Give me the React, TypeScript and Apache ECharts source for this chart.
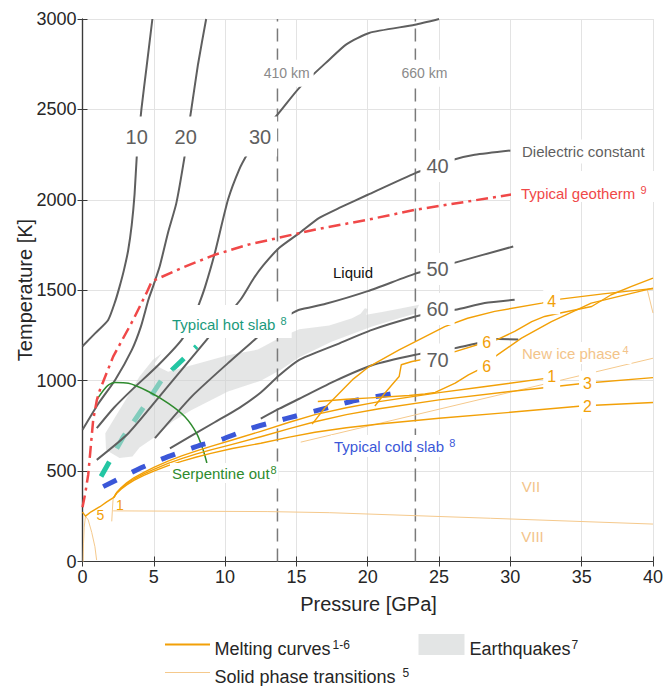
import React, { useEffect, useRef } from 'react';
import * as echarts from 'echarts';

type Pt = [number, number];

// ---------- axes ----------
const pressureRange = { min: 0, max: 40, interval: 5 };
const temperatureRange = { min: 0, max: 3000, interval: 500 };

// ---------- dielectric constant contours ----------
const dielectricLevels = ['10', '20', '30', '40', '50', '60', '70'];
const eps10: Pt[] = [[0, 1190], [0.9, 1263], [1.8, 1336], [2.3, 1440], [2.6, 1520], [2.9, 1610], [3.2, 1720], [3.45, 1860], [3.65, 2030], [3.82, 2260], [3.95, 2360], [4.13, 2500], [4.5, 2740], [4.9, 3000]];
const eps20: Pt[] = [[0, 728], [1.13, 875], [2.29, 1004], [3.46, 1170], [4.1, 1300], [4.62, 1447], [4.9, 1510], [5.41, 1631], [6.0, 1820], [6.58, 1982], [7.2, 2260], [7.35, 2355], [7.63, 2500], [8.1, 2750], [8.67, 3000]];
const eps30: Pt[] = [[1.0, 737], [2.2, 850], [3.46, 949], [5.32, 1087], [6.95, 1226], [7.7, 1330], [8.2, 1430], [8.6, 1520], [9.28, 1706], [10.2, 2000], [11.0, 2170], [11.6, 2259], [12.4, 2360], [13.67, 2471], [15.2, 2619], [17.3, 2775], [18.5, 2860], [20.1, 2923], [23.3, 2968], [25, 3000]];
const eps40: Pt[] = [[1.0, 562], [3.22, 709], [5.78, 949], [8.7, 1226], [10.0, 1345], [11.1, 1450], [12.0, 1565], [12.7, 1640], [13.8, 1735], [15.2, 1816], [16.6, 1900], [18, 1955], [20, 2028], [23.34, 2148], [24.7, 2185], [26, 2222], [27.5, 2249], [30, 2273]];
const eps50: Pt[] = [[5.08, 682], [7.65, 912], [10.2, 1097], [12.07, 1226], [13.3, 1310], [14.49, 1364], [15.2, 1392], [17.05, 1425], [20, 1495], [23.34, 1592], [24.8, 1622], [26, 1650], [30.2, 1742]];
const eps60: Pt[] = [[6.13, 626], [9.27, 770], [11, 850], [12.5, 935], [13.8, 1030], [15.2, 1115], [17.75, 1198], [20.3, 1281], [23.34, 1355], [24.7, 1378], [26.13, 1392], [28.2, 1429], [30.3, 1447]];
const eps70: Pt[] = [[12.5, 790], [13.8, 845], [15.2, 900], [17.75, 1000], [20.3, 1085], [23.34, 1143], [24.8, 1162], [26.13, 1180], [27.76, 1208], [29.15, 1230], [30.55, 1228]];

// ---------- profiles ----------
const geotherm: Pt[] = [[0, 300], [0.2, 380], [0.4, 480], [0.75, 783], [1.01, 894], [1.22, 949], [2.15, 1133], [3.55, 1336], [4.48, 1484], [4.85, 1549], [6.95, 1623], [9.27, 1696], [11.6, 1752], [13.7, 1789], [16.26, 1835], [20, 1890], [23.34, 1945], [29.97, 2028], [35, 2088], [40, 2145]];
const hotSlab: Pt[] = [[1.3, 470], [2.87, 691], [4.15, 838], [5.55, 1004], [8, 1190]];
const coldSlab: Pt[] = [[1.45, 414], [3.9, 510], [6.0, 580], [8.34, 645], [9.5, 668], [11.84, 737], [14.26, 790], [17.5, 857], [19.1, 890], [21.7, 928]];
const serpentineOut: Pt[] = [[0.99, 894], [1.5, 950], [1.83, 977], [2.29, 990], [3.22, 986], [4.62, 940], [6.02, 875], [7.18, 801], [8.0, 709], [8.46, 617], [8.72, 545]];

// ---------- earthquakes outline ----------
const quakeOutline: Pt[] = [
  [5.55, 1150], [5.0, 1090], [6.0, 1050], [8.1, 1095], [10.2, 1140], [12.3, 1172], [13.9, 1240], [15.2, 1284], [17.3, 1305],
  [18.9, 1345], [19.5, 1370], [19.8, 1400], [20.0, 1396], [19.9, 1365], [21.0, 1380], [22.2, 1398], [23.6, 1420], [23.3, 1370],
  [22.2, 1345], [20.3, 1300], [17.5, 1216], [15.2, 1130], [13.9, 1060], [12.5, 1000], [10.2, 940], [7.65, 838], [6.34, 775],
  [5.1, 690], [4.0, 630], [3.5, 580], [2.6, 572], [1.65, 617], [1.6, 709], [3.0, 890], [4.0, 1023], [4.94, 1115],
];

// ---------- melting curves ----------
const melt1: Pt[] = [[0, 273], [0.21, 251], [0.6, 275], [1.22, 303], [1.7, 330], [2.2, 355], [2.4, 382], [2.7, 408], [3.1, 435], [3.6, 463], [4.3, 493], [5, 520], [6, 555], [7, 585], [8, 612], [9, 637], [10.5, 672], [12.5, 720], [14.5, 770], [16.3, 812], [18.5, 850], [20.8, 884], [25, 934], [28, 965], [32.6, 1014]];
const melt2: Pt[] = [[2.2, 355], [2.4, 378], [2.7, 400], [3.1, 424], [3.6, 449], [4.3, 476], [5, 500], [6, 530], [7, 555], [8, 578], [9, 598], [10.5, 625], [12.5, 654], [14.5, 688], [16.3, 715], [18.5, 740], [20.8, 760], [25, 792], [30, 825], [35.2, 861], [40, 879]];
const melt3: Pt[] = [[2.2, 355], [2.4, 380], [2.7, 404], [3.1, 430], [3.6, 456], [4.3, 485], [5, 510], [6, 543], [7, 570], [8, 595], [9, 617], [10.5, 648], [12.5, 690], [14.5, 735], [16.3, 773], [18.5, 812], [20.8, 845], [25, 894], [30, 940], [35.2, 986], [40, 1017]];
const melt4: Pt[] = [[16.1, 760], [17, 850], [18, 931], [19, 1010], [20.1, 1078], [22.2, 1170], [23.34, 1216], [25.4, 1299], [27, 1345], [28.9, 1383], [32.2, 1429], [33.5, 1451], [36.5, 1480], [39.6, 1506], [40, 1508]];
const melt6a: Pt[] = [[20.5, 860], [20.9, 900], [21.24, 935], [21.7, 977], [22.2, 1023], [22.35, 1088], [23.1, 1106], [24.3, 1125], [26.13, 1161], [28.2, 1211], [29.15, 1230], [30.3, 1272], [31.5, 1327], [32.4, 1355], [33.5, 1374], [35.7, 1410], [37.07, 1475], [38.5, 1521], [40, 1567]];
const melt6b: Pt[] = [[16.5, 885], [18.5, 897], [20.2, 905], [22.9, 918], [24.0, 926], [24.73, 935], [26.13, 986], [27.06, 1032], [27.76, 1060], [28.24, 1082], [28.92, 1133], [30.78, 1235], [32.88, 1327], [35.67, 1429], [40, 1512]];

// ---------- solid phase transitions ----------
const newIcePhase: Pt[] = [[15.3, 660], [40, 1124]];
const iceVIIVIII: Pt[] = [[2.15, 280], [13, 276], [17.3, 270], [28.6, 239], [40, 207]];
const transA: Pt[] = [[0.21, 251], [0.4, 230], [0.65, 160], [0.87, 82], [0.99, 8]];
const transB: Pt[] = [[0.21, 251], [0.12, 190], [0.07, 100], [0.05, 0]];
const transC: Pt[] = [[2.15, 352], [2.1, 290], [2.05, 222]];
const transD: Pt[] = [[39.6, 1503], [40, 1374]];

// ---------- mantle depths ----------
const depthMarkers: { name: string; pressure: number }[] = [
  { name: '410 km', pressure: 13.67 },
  { name: '660 km', pressure: 23.34 },
];

const FONT = '"Liberation Sans", Arial, Helvetica, sans-serif';
const GRAY = '#5f5f5f';
const ORANGE = '#f2a007';
const LIGHT = '#f5c98c';
const RED = '#f04848';
const TEAL = '#23c6a3';
const BLUE = '#3b57d8';
const GREEN = '#2e8b2e';

function lineSeries(data: Pt[], color: string, width: number, opts: any = {}) {
  return {
    type: 'line',
    data,
    symbol: 'none',
    showSymbol: false,
    silent: true,
    clip: true,
    smooth: opts.smooth ?? false,
    z: opts.z ?? 4,
    lineStyle: { color, width, type: opts.dash ?? 'solid', cap: 'butt', join: 'round' },
    emphasis: { disabled: true },
  };
}

function text(content: string, x: number, y: number, o: any = {}) {
  const style: any = {
    text: content,
    fill: o.color ?? '#262626',
    fontSize: o.size ?? 15,
    fontFamily: FONT,
    align: o.align ?? 'center',
    verticalAlign: o.va ?? 'middle',
    lineHeight: o.lh ?? (o.size ?? 15) + 3,
  };
  if (o.bg) { style.backgroundColor = o.bg; style.padding = o.pad ?? [2, 3]; }
  if (o.rich) style.rich = o.rich;
  return { type: 'text', x, y, z: 100, silent: true, rotation: o.rotation ?? 0, style };
}

function supText(main: string, sup: string, x: number, y: number, o: any = {}) {
  const size = o.size ?? 15;
  const supSize = o.supSize ?? 11;
  return text(`{m|${main}}{s|${sup}}`, x, y, {
    ...o,
    align: o.align ?? 'left',
    rich: {
      m: { fontSize: size, fontFamily: FONT, lineHeight: size + 3 },
      s: { fontSize: supSize, fontFamily: FONT, lineHeight: 8, verticalAlign: 'top', padding: [0, 0, 0, o.gap ?? 1] },
    },
  });
}

function buildOption() {
  const contours = [eps10, eps20, eps30, eps40, eps50, eps60, eps70];
  const series: any[] = [];

  series.push(lineSeries(hotSlab, TEAL, 5, { dash: [17, 15], z: 2 }));
  series.push({
    type: 'custom',
    silent: true,
    z: 3,
    data: quakeOutline,
    encode: { x: 0, y: 1 },
    renderItem: (params: any, api: any) => {
      if (params.dataIndex !== 0) return null;
      const points = quakeOutline.map((p) => api.coord(p));
      return { type: 'polygon', shape: { points }, style: { fill: '#cfd1d1', opacity: 0.55 } };
    },
  });
  depthMarkers.forEach((d) => {
    series.push(lineSeries([[d.pressure, temperatureRange.min], [d.pressure, temperatureRange.max]], '#7a7a7a', 1.5, { dash: [13, 7], z: 3 }));
  });
  contours.forEach((c) => series.push(lineSeries(c, GRAY, 2, { smooth: 0.2, z: 4 })));
  series.push(lineSeries(serpentineOut, GREEN, 1.5, { smooth: 0.3, z: 5 }));
  series.push(lineSeries(coldSlab, BLUE, 5, { dash: [15, 17], z: 5, smooth: 0.2 }));
  [newIcePhase, iceVIIVIII, transA, transB, transC, transD].forEach((t) => series.push(lineSeries(t, LIGHT, 1, { z: 5 })));
  [melt1, melt2, melt3, melt4, melt6a, melt6b].forEach((m) => series.push(lineSeries(m, ORANGE, 1.4, { z: 6 })));
  series.push(lineSeries(geotherm, RED, 2.5, { dash: [12, 5, 3, 5], z: 7 }));

  const W = '#ffffff';
  const graphic: any[] = [
    // dielectric constant labels
    text(dielectricLevels[0], 136.7, 136.5, { size: 20, color: GRAY, bg: W, pad: [10, 5], lh: 20 }),
    text(dielectricLevels[1], 185.7, 136.5, { size: 20, color: GRAY, bg: W, pad: [10, 5], lh: 20 }),
    text(dielectricLevels[2], 260, 136.5, { size: 20, color: GRAY, bg: W, pad: [10, 6], lh: 20 }),
    text(dielectricLevels[3], 437.5, 166, { size: 20, color: GRAY, bg: W, pad: [6, 6], lh: 20 }),
    text(dielectricLevels[4], 437.5, 269, { size: 20, color: GRAY, bg: W, pad: [6, 6], lh: 20 }),
    text(dielectricLevels[5], 437.5, 309, { size: 20, color: GRAY, bg: W, pad: [6, 6], lh: 20 }),
    text(dielectricLevels[6], 437.5, 359.5, { size: 20, color: GRAY, bg: W, pad: [6, 6], lh: 20 }),
    text('Dielectric constant', 518, 151.5, { size: 15, color: GRAY, align: 'left', bg: W, pad: [3, 4] }),
    supText('Typical geotherm ', '9', 511, 171, { color: RED, va: 'top', bg: W, pad: [13, 12, 0, 10] }),
    // depths
    text(depthMarkers[0].name, 286.7, 73.3, { size: 14, color: '#8a8a8a', bg: W, pad: [6, 4], lh: 15 }),
    text(depthMarkers[1].name, 424.5, 73.3, { size: 14, color: '#8a8a8a', bg: W, pad: [6, 4], lh: 15 }),
    text('Liquid', 353, 272.5, { size: 15, color: '#111' }),
    supText('Typical hot slab ', '8', 168, 305, { color: '#1a9a7c', va: 'top', bg: W, pad: [10, 5, 5, 4] }),
    supText('Serpentine out', '8', 170, 473, { color: GREEN, bg: W, pad: [1, 2] }),
    supText('Typical cold slab ', '8', 331, 446, { color: BLUE, bg: W, pad: [2, 3] }),
    supText('New ice phase', '4', 519, 353, { color: '#f3c48a', bg: W, pad: [2, 3], gap: 2 }),
    text('VII', 531, 486, { size: 15, color: '#f3c48a' }),
    text('VIII', 532.5, 536, { size: 15, color: '#f3c48a' }),
    // melting-curve numbers
    text('4', 551.7, 301.7, { size: 16, color: ORANGE, bg: W, pad: [3, 4] }),
    text('6', 486.7, 342.7, { size: 16, color: ORANGE, bg: W, pad: [3, 5] }),
    text('6', 486.7, 366, { size: 16, color: ORANGE, bg: W, pad: [3, 5] }),
    text('1', 551.7, 376.7, { size: 16, color: ORANGE, bg: W, pad: [3, 4] }),
    text('3', 587.5, 383.3, { size: 16, color: ORANGE, bg: W, pad: [3, 4] }),
    text('2', 587.5, 406, { size: 16, color: ORANGE, bg: W, pad: [3, 4] }),
    text('5', 100.3, 515, { size: 14, color: ORANGE }),
    text('1', 120, 505, { size: 14, color: ORANGE }),
    // axis titles
    text('Temperature [K]', 25, 290, { size: 20, color: '#262626', rotation: Math.PI / 2 }),
    text('Pressure [GPa]', 368.5, 604, { size: 20, color: '#262626' }),
    // legend
    { type: 'line', z: 100, silent: true, shape: { x1: 165, y1: 644.5, x2: 210, y2: 644.5 }, style: { stroke: ORANGE, lineWidth: 2 } },
    supText('Melting curves', '1-6', 214.5, 649, { size: 18, supSize: 12, color: '#262626', gap: 2 }),
    { type: 'rect', z: 100, silent: true, shape: { x: 418.5, y: 634, width: 46, height: 21 }, style: { fill: '#e3e5e5' } },
    supText('Earthquakes', '7', 469.5, 649, { size: 18, supSize: 12, color: '#262626', gap: 1 }),
    { type: 'line', z: 100, silent: true, shape: { x1: 165, y1: 672.5, x2: 210, y2: 672.5 }, style: { stroke: LIGHT, lineWidth: 1.2 } },
    supText('Solid phase transitions ', '5', 214.5, 677, { size: 18, supSize: 12, color: '#262626', gap: 2 }),
  ];

  const axisLine = { show: true, lineStyle: { color: '#3a3a3a', width: 1.2 } };
  const tick = { show: true, inside: true, length: 5, lineStyle: { color: '#3a3a3a', width: 1 } };
  const labelStyle = { fontSize: 18, color: '#262626', fontFamily: FONT, formatter: (v: number) => String(v) };

  return {
    animation: false,
    backgroundColor: '#ffffff',
    grid: { left: 82.5, top: 19, width: 572.5, height: 542.5, containLabel: false },
    xAxis: [
      {
        type: 'value', ...pressureRange, position: 'bottom',
        axisLine, axisTick: tick,
        axisLabel: { ...labelStyle, margin: 6 },
        splitLine: { show: true, lineStyle: { color: '#e3e3e3', width: 1 } },
      },
      {
        type: 'value', ...pressureRange, position: 'top',
        axisLine, axisTick: tick, axisLabel: { show: false }, splitLine: { show: false },
      },
    ],
    yAxis: [
      {
        type: 'value', ...temperatureRange, position: 'left',
        axisLine, axisTick: tick,
        axisLabel: { ...labelStyle, margin: 6 },
        splitLine: { show: true, lineStyle: { color: '#e3e3e3', width: 1 } },
      },
      {
        type: 'value', ...temperatureRange, position: 'right',
        axisLine, axisTick: tick, axisLabel: { show: false }, splitLine: { show: false },
      },
    ],
    series,
    graphic,
  };
}

export default function App() {
  const ref = useRef<HTMLDivElement>(null);
  useEffect(() => {
    if (!ref.current) return;
    const chart = echarts.init(ref.current, undefined, { renderer: 'svg' });
    chart.setOption(buildOption() as any);
    return () => chart.dispose();
  }, []);
  return (
    <div
      ref={ref}
      style={{ position: 'fixed', left: 0, top: 0, width: 666, height: 686, background: '#fff' }}
    />
  );
}
